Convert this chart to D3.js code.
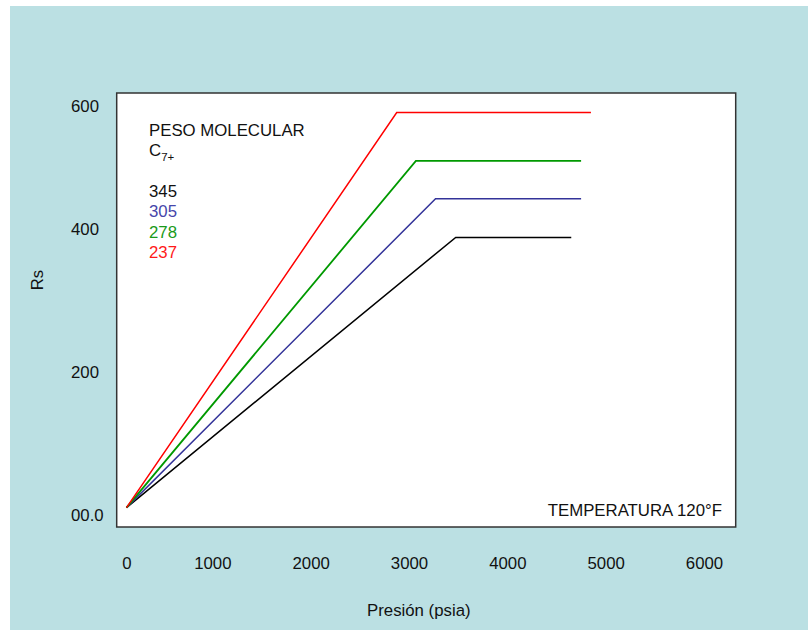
<!DOCTYPE html>
<html>
<head>
    <meta charset="utf-8">
    <title>Rs vs Presion</title>
    <script src="https://d3js.org/d3.v7.min.js"></script>
    <style type="text/css">
        body { margin: 0; background: #fff; }
        text { font-family: "Liberation Sans", Arial, sans-serif; font-size: 16.8px; fill: #111; }
        .axis path, .axis line { display: none; }
        .axis text { font-family: "Liberation Sans", Arial, sans-serif; font-size: 16.8px; fill: #111; }
    </style>
</head>
<body>
<script>
    // datos
    var pesoMolecular = ["345", "305", "278", "237"];
    var colores = ["#000000", "#333399", "#009900", "#ff0000"];
    var textoColores = ["#111111", "#4646aa", "#1a9a1a", "#ff1a1a"];
    var rsOrigen = 10;
    var presionQuiebre = [3475, 3270, 3070, 2875];
    var rsMeseta = [388, 449, 511, 590];
    var presionFinal = [4650, 4750, 4750, 4850];
    var xTicks = [0, 1000, 2000, 3000, 4000, 5000, 6000];
    var yTicks = [0, 200, 400, 600];
    var yTickLabels = ["00.0", "200", "400", "600"];

    var w = 808, h = 630;
    var plot = {left: 116.7, top: 93, right: 735.7, bottom: 527};

    var svg = d3.select("body").append("svg")
        .attr("width", w)
        .attr("height", h);

    svg.append("rect")
        .attr("x", 10).attr("y", 6)
        .attr("width", w - 10).attr("height", h - 6)
        .attr("fill", "#bbe0e3");

    svg.append("rect")
        .attr("x", plot.left).attr("y", plot.top)
        .attr("width", plot.right - plot.left)
        .attr("height", plot.bottom - plot.top)
        .attr("fill", "#fff")
        .attr("stroke", "#333")
        .attr("stroke-width", 1.5);

    // escalas (las marcas del original no estan espaciadas igual)
    var xScale = d3.scaleLinear()
        .domain(xTicks)
        .range([126.5, 212.3, 310.7, 409, 507.3, 605.7, 704]);
    var yScale = d3.scaleLinear()
        .domain(yTicks)
        .range([514.8, 371.8, 228.8, 106.5]);

    var xAxis = d3.axisBottom(xScale)
        .tickValues(xTicks)
        .tickSize(0)
        .tickPadding(30)
        .tickFormat(d3.format("d"));
    svg.append("g")
        .attr("class", "axis")
        .attr("transform", "translate(0," + plot.bottom + ")")
        .call(xAxis);

    var yAxis = d3.axisLeft(yScale)
        .tickValues(yTicks)
        .tickSize(0)
        .tickFormat(function(d, i) { return yTickLabels[i]; });
    svg.append("g")
        .attr("class", "axis")
        .attr("transform", "translate(" + plot.left + ",0)")
        .call(yAxis)
        .selectAll("text")
        .attr("text-anchor", "start")
        .attr("x", 71 - plot.left);

    // curvas
    var linea = d3.line()
        .x(function(d) { return xScale(d[0]); })
        .y(function(d) { return yScale(d[1]); });

    var curvas = pesoMolecular.map(function(p, i) {
        return [[0, rsOrigen], [presionQuiebre[i], rsMeseta[i]], [presionFinal[i], rsMeseta[i]]];
    });

    svg.selectAll("path.curva")
        .data(curvas)
        .enter()
        .append("path")
        .attr("class", "curva")
        .attr("d", linea)
        .attr("fill", "none")
        .attr("stroke", function(d, i) { return colores[i]; })
        .attr("stroke-width", function(d, i) { return i == 2 ? 1.8 : 1.5; });

    // leyenda
    svg.append("text")
        .attr("x", 149).attr("y", 135.5)
        .text("PESO MOLECULAR");
    var c7 = svg.append("text")
        .attr("x", 149).attr("y", 155.5)
        .text("C");
    c7.append("tspan")
        .attr("dy", 5)
        .style("font-size", "11.5px")
        .text("7+");

    svg.selectAll("text.pm")
        .data(pesoMolecular)
        .enter()
        .append("text")
        .attr("class", "pm")
        .attr("x", 149)
        .attr("y", function(d, i) { return 197.3 + i * 20.1; })
        .style("fill", function(d, i) { return textoColores[i]; })
        .text(function(d) { return d; });

    svg.append("text")
        .attr("x", 722).attr("y", 515.5)
        .attr("text-anchor", "end")
        .text("TEMPERATURA 120°F");

    // titulos de ejes
    svg.append("text")
        .attr("x", 418.8).attr("y", 615.5)
        .attr("text-anchor", "middle")
        .text("Presión (psia)");
    svg.append("text")
        .attr("transform", "translate(42.5,280) rotate(-90)")
        .attr("text-anchor", "middle")
        .text("Rs");
</script>
</body>
</html>
